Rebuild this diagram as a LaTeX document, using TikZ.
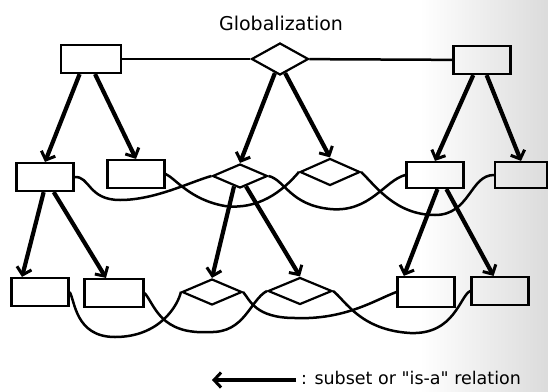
\documentclass[tikz,border=0pt]{standalone}
\usepackage{fontspec}
\setmainfont{DejaVu Sans}
\newfontfamily\plainsans{DejaVu Sans}
\usetikzlibrary{shapes.geometric,arrows.meta}

\tikzstyle{entity} = [rectangle, minimum width=57pt, minimum height=28pt, inner sep=0pt, draw=black, line width=2.2pt]
\tikzstyle{relship} = [diamond, minimum width=60pt, minimum height=26pt, inner sep=0pt, draw=black, line width=2.2pt]
\tikzstyle{isa} = [line width=4.2pt, -{Straight Barb[length=7pt,width=15pt,line width=3pt]}]
\tikzstyle{link} = [line width=2.5pt]
\tikzstyle{title} = [font=\fontsize{19pt}{22pt}\selectfont]
\tikzstyle{legendtext} = [font=\plainsans\fontsize{17.5pt}{20pt}\selectfont, inner sep=0pt, anchor=west]

\begin{document}
\begin{tikzpicture}[x=1pt, y=-1pt]
\useasboundingbox (0,0) rectangle (548,391);
% scanned grey at the right edge
\shade[left color=white, right color=black!14] (420,0) rectangle (548,391);

\node (glob) [title] at (281,23) {Globalization};

% top level
\node (l0) [entity, minimum width=60pt] at (91,59) {};
\node (d0) [relship, minimum width=57pt, minimum height=32pt] at (280,59) {};
\node (r0) [entity] at (482,60) {};

% second level
\node (a1) [entity] at (45,177) {};
\node (a2) [entity] at (136,174) {};
\node (d1) [relship, minimum width=55pt, minimum height=24pt] at (240,176) {};
\node (d2) [relship, minimum height=27pt] at (330,172) {};
\node (a3) [entity, minimum height=26pt] at (435,175) {};
\node (a4) [entity, minimum width=52pt, minimum height=26pt] at (521,175) {};

% third level
\node (b1) [entity] at (40,292) {};
\node (b2) [entity, minimum width=59pt] at (114,293) {};
\node (d3) [relship] at (212,292) {};
\node (d4) [relship, minimum width=64pt, minimum height=27pt] at (300,291) {};
\node (b3) [entity, minimum height=30pt] at (426,292) {};
\node (b4) [entity] at (500,291) {};

\draw [link] (l0) -- (d0);
\draw [link] (d0) -- (r0);

\draw [isa] (l0.233) -- (a1.north);
\draw [isa] (l0.285) -- (a2.north);
\draw [isa] (d0.250) -- (d1.north);
\draw [isa] (d0.290) -- (d2.north);
\draw [isa] (r0.240) -- (a3.north);
\draw [isa] (r0.287) -- (a4.north);

\draw [link] (a1.east) .. controls (90,176) and (88,200) .. (120,200) .. controls (155,200) and (190,182) .. (d1.west);
\draw [link] (a2.east) .. controls (175,178) and (190,200) .. (225,206) .. controls (258,210) and (282,192) .. (d2.west);
\draw [link] (d1.east) .. controls (285,180) and (290,205) .. (330,209) .. controls (370,213) and (385,180) .. (a3.west);
\draw [link] (d2.east) .. controls (375,185) and (395,215) .. (435,215) .. controls (470,215) and (470,175) .. (a4.west);

\draw [isa] (a1.265) -- (b1.140);
\draw [isa] (a1.300) -- (b2.118);
\draw [isa] (d1.240) -- (d3.north);
\draw [isa] (d1.300) -- (d4.north);
\draw [isa] (a3.280) -- (b3.144);
\draw [isa] (a3.309) -- (b4.113);

\draw [link] (b1.east) .. controls (75,300) and (75,337) .. (115,337) .. controls (160,337) and (178,305) .. (d3.west);
\draw [link] (b2.east) .. controls (155,305) and (160,335) .. (210,332) .. controls (245,333) and (250,300) .. (d4.west);
\draw [link] (d3.east) .. controls (250,300) and (255,318) .. (295,318) .. controls (345,320) and (375,300) .. (b3.west);
\draw [link] (d4.east) .. controls (345,300) and (360,330) .. (410,333) .. controls (455,335) and (460,295) .. (b4.west);

% legend
\coordinate (legtip) at (212,380);
\node (legend) [legendtext] at (301,378) {: subset or "is-a" relation};
\draw [isa, shorten <=5pt] (legend.west |- legtip) -- (legtip);

\end{tikzpicture}
\end{document}
